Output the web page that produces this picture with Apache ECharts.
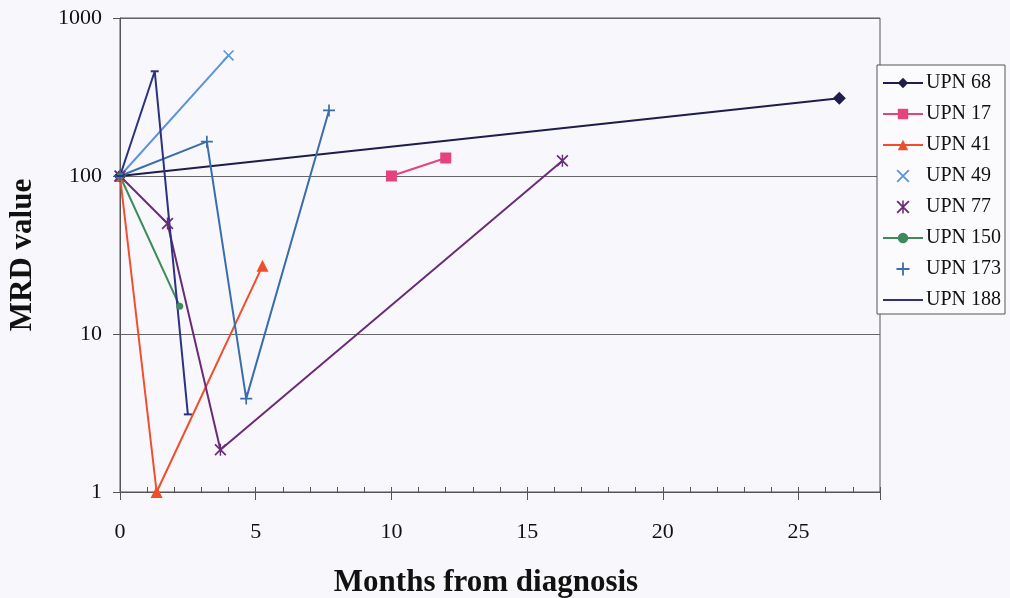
<!DOCTYPE html>
<html>
<head>
<meta charset="utf-8">
<script src="https://cdn.jsdelivr.net/npm/echarts@6/dist/echarts.min.js"></script>
<style>
  html, body { margin: 0; padding: 0; background: #f8f8fc; }
  #main { width: 1010px; height: 598px; }
</style>
</head>
<body>
<div id="main"></div>
<script>
// MRD values by months from diagnosis
var names = ['UPN 68', 'UPN 17', 'UPN 41', 'UPN 49', 'UPN 77', 'UPN 150', 'UPN 173', 'UPN 188'];
var upn68 = [[0, 100], [26.5, 310]];
var upn17 = [[10, 100], [12, 130]];
var upn41 = [[0, 100], [1.35, 1], [5.25, 27]];
var upn49 = [[0, 100], [4, 580]];
var upn77 = [[0, 100], [1.75, 50], [3.7, 1.85], [16.3, 125]];
var upn150 = [[0, 100], [2.2, 15]];
var upn173 = [[0, 100], [3.2, 165], [4.65, 3.9], [7.7, 260]];
var upn188 = [[0, 100], [1.28, 460], [2.5, 3.1]];
var xTicks = [0, 5, 10, 15, 20, 25];

var serif = "'Liberation Serif', 'Times New Roman', serif";
var plus = 'path://M4.3,0H5.7V4.3H10V5.7H5.7V10H4.3V5.7H0V4.3H4.3Z';
var cross = 'path://M0,1L1,0L10,9L9,10Z M1,10L0,9L9,0L10,1Z';
var star = 'path://M0,1L1,0L10,9L9,10Z M1,10L0,9L9,0L10,1Z M4.4,0H5.6V10H4.4Z';
var dash = 'path://M0,0H40V2H0Z';

function line(name, data, color, symbol, size) {
    return {
        name: name,
        type: 'line',
        data: data,
        symbol: symbol,
        symbolSize: size,
        showSymbol: true,
        color: color,
        lineStyle: { color: color, width: 2 },
        itemStyle: { color: color },
        animation: false
    };
}

var myChart = echarts.init(document.getElementById('main'));
var option = {
    backgroundColor: '#f8f8fc',
    textStyle: { fontFamily: serif },
    grid: {
        left: 120, right: 130, top: 18, bottom: 106,
        outerBoundsMode: 'none',
        containLabel: false,
        show: true, borderColor: '#555', borderWidth: 1, backgroundColor: 'transparent'
    },
    legend: {
        data: [
            { name: 'UPN 68' },
            { name: 'UPN 17' },
            { name: 'UPN 41' },
            { name: 'UPN 49', icon: cross },
            { name: 'UPN 77', icon: star },
            { name: 'UPN 150' },
            { name: 'UPN 173', icon: plus },
            { name: 'UPN 188', icon: dash, itemStyle: { color: '#2c3181' } }
        ],
        orient: 'vertical',
        left: 877,
        top: 65,
        itemWidth: 40,
        itemHeight: 13,
        itemGap: 11,
        padding: [8, 4, 4, 5],
        backgroundColor: '#fbfbfd',
        borderColor: '#555',
        borderWidth: 1,
        textStyle: { fontFamily: serif, fontSize: 20, color: '#111', padding: [0, 0, 0, -2] }
    },
    xAxis: [
        {
            type: 'value',
            min: 0,
            max: 28,
            interval: 1,
            name: 'Months from diagnosis',
            nameLocation: 'middle',
            nameGap: 75,
            nameTextStyle: {
                fontFamily: serif, fontSize: 31, fontWeight: 'bold', color: '#111',
                padding: [0, 28, 0, 0]
            },
            axisLine: { lineStyle: { color: '#555', width: 1 } },
            axisTick: { inside: true, length: 5, lineStyle: { color: '#555' } },
            axisLabel: {
                margin: 29,
                fontFamily: serif,
                fontSize: 22,
                color: '#111',
                formatter: function (v) { return xTicks.indexOf(v) >= 0 ? String(v) : ''; }
            },
            splitLine: { show: false }
        },
        {
            type: 'value',
            min: 0,
            max: 28,
            interval: 5,
            position: 'bottom',
            axisLine: { show: false },
            axisTick: { inside: false, length: 8, lineStyle: { color: '#555' } },
            axisLabel: { show: false },
            splitLine: { show: false }
        }
    ],
    yAxis: {
        type: 'log',
        logBase: 10,
        min: 1,
        max: 1000,
        name: 'MRD value',
        nameLocation: 'middle',
        nameGap: 82,
        nameTextStyle: { fontFamily: serif, fontSize: 31, fontWeight: 'bold', color: '#111' },
        axisLine: { show: true, lineStyle: { color: '#555', width: 1 } },
        axisTick: { show: true, length: 7, lineStyle: { color: '#555' } },
        axisLabel: {
            margin: 18,
            fontFamily: serif,
            fontSize: 22,
            color: '#111',
            padding: [6, 0, 0, 0],
            formatter: function (v) { return String(Math.round(v)); }
        },
        splitLine: { show: true, lineStyle: { color: '#666', width: 1 } }
    },
    series: [
        line('UPN 68', upn68, '#1e1d4c', 'diamond', 13),
        line('UPN 17', upn17, '#e6437c', 'rect', 11),
        line('UPN 41', upn41, '#f04e2c', 'triangle', 12),
        line('UPN 49', upn49, '#5b93dc', cross, 11),
        line('UPN 77', upn77, '#6a2c78', star, 12),
        line('UPN 150', upn150, '#3f8a5c', 'circle', 7),
        line('UPN 173', upn173, '#3a6dab', plus, 12),
        line('UPN 188', upn188, '#2c3181', 'rect', [8, 2])
    ]
};
myChart.setOption(option);
</script>
</body>
</html>
